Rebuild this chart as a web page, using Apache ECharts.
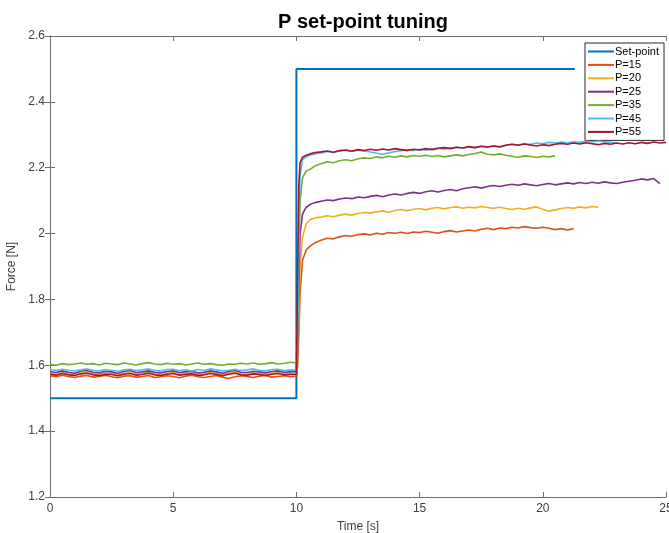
<!DOCTYPE html>
<html>
<head>
<meta charset="utf-8">
<script src="https://cdn.jsdelivr.net/npm/echarts@6/dist/echarts.min.js"></script>
<style>
html,body{margin:0;padding:0;background:#fff;}
#chart{width:669px;height:533px;}
</style>
</head>
<body>
<div id="chart"></div>
<script>
// Time base (s)
var times = [
  0,0.25,0.5,0.75,1,1.25,1.5,1.75,2,2.25,2.5,2.75,3,3.25,3.5,3.75,4,4.25,4.5,4.75,
  5,5.25,5.5,5.75,6,6.25,6.5,6.75,7,7.25,7.5,7.75,8,8.25,8.5,8.75,9,9.25,9.5,9.75,10,
  10.05,10.1,10.15,10.25,10.4,10.55,10.75,
  11,11.25,11.5,11.75,12,12.25,12.5,12.75,13,13.25,13.5,13.75,14,14.25,14.5,14.75,
  15,15.25,15.5,15.75,16,16.25,16.5,16.75,17,17.25,17.5,17.75,18,18.25,18.5,18.75,
  19,19.25,19.5,19.75,20,20.25,20.5,20.75,21,21.25,21.5,21.75,22,22.25,22.5,22.75,
  23,23.25,23.5,23.75,24,24.25,24.5,24.75,25
];

var setpointT = [0, 10, 10, 21.3];
var setpointV = [1.5, 1.5, 2.5, 2.5];

var p15 = [
  1.568,1.565,1.570,1.566,1.563,1.567,1.569,1.564,1.566,1.570,
  1.565,1.562,1.567,1.568,1.564,1.566,1.569,1.563,1.565,1.568,
  1.566,1.562,1.567,1.570,1.565,1.563,1.566,1.569,1.564,1.560,
  1.565,1.568,1.566,1.563,1.567,1.569,1.564,1.566,1.568,1.565,
  1.567,
  1.600,1.700,1.820,1.920,1.950,1.962,1.972,
  1.980,1.986,1.984,1.990, 1.994,1.992,1.997,1.999, 1.996,2.001,1.998,2.003,
  2.001,2.004,2.000,2.005, 2.003,2.007,2.004,2.001, 2.006,2.009,2.005,2.008,
  2.011,2.008,2.013,2.016, 2.012,2.017,2.015,2.019, 2.017,2.021,2.018,2.016,
  2.019,2.016,2.012,2.015, 2.011,2.015
];
var p20 = [
  1.576,1.573,1.578,1.574,1.571,1.576,1.579,1.574,1.572,1.577,
  1.575,1.571,1.576,1.578,1.573,1.575,1.579,1.574,1.572,1.576,
  1.578,1.573,1.575,1.577,1.572,1.574,1.578,1.575,1.571,1.576,
  1.579,1.574,1.573,1.577,1.575,1.572,1.576,1.578,1.574,1.575,
  1.576,
  1.610,1.760,1.900,1.990,2.030,2.042,2.048,
  2.050,2.054,2.051,2.056, 2.059,2.056,2.061,2.064, 2.062,2.066,2.069,2.065,
  2.070,2.073,2.069,2.074, 2.076,2.072,2.077,2.079, 2.075,2.079,2.081,2.077,
  2.080,2.078,2.082,2.079, 2.077,2.080,2.076,2.073, 2.077,2.074,2.078,2.081,
  2.074,2.068,2.072,2.076, 2.079,2.077,2.081,2.078, 2.082,2.080
];
var p25 = [
  1.581,1.578,1.583,1.579,1.576,1.582,1.584,1.579,1.577,1.582,
  1.580,1.576,1.581,1.584,1.578,1.580,1.583,1.579,1.577,1.581,
  1.583,1.578,1.580,1.582,1.577,1.579,1.583,1.580,1.576,1.581,
  1.584,1.579,1.578,1.582,1.580,1.577,1.581,1.583,1.579,1.580,
  1.581,
  1.640,1.850,2.000,2.060,2.080,2.088,2.094,
  2.098,2.102,2.100,2.105, 2.108,2.106,2.111,2.109, 2.113,2.116,2.112,2.117,
  2.120,2.117,2.122,2.125, 2.122,2.127,2.130,2.126, 2.131,2.134,2.130,2.136,
  2.139,2.142,2.138,2.143, 2.146,2.143,2.147,2.150, 2.147,2.151,2.148,2.145,
  2.149,2.152,2.148,2.151, 2.154,2.151,2.155,2.152, 2.156,2.153,2.157,2.154,
  2.152,2.156,2.159,2.162, 2.166,2.163,2.167,2.152
];
var p35 = [
  1.603,1.600,1.605,1.602,1.604,1.607,1.603,1.605,1.601,1.606,
  1.604,1.602,1.607,1.604,1.601,1.605,1.608,1.604,1.602,1.606,
  1.603,1.605,1.601,1.604,1.607,1.603,1.605,1.602,1.600,1.604,
  1.603,1.606,1.604,1.607,1.603,1.605,1.608,1.604,1.606,1.609,
  1.607,
  1.680,1.930,2.100,2.170,2.190,2.195,2.205,
  2.212,2.218,2.215,2.221, 2.224,2.221,2.227,2.230, 2.228,2.233,2.230,2.235,
  2.232,2.236,2.233,2.237, 2.235,2.238,2.234,2.237, 2.233,2.236,2.239,2.236,
  2.240,2.243,2.248,2.241, 2.239,2.242,2.238,2.235, 2.232,2.236,2.234,2.231,
  2.235,2.233,2.236
];
var p45 = [
  1.587,1.584,1.588,1.585,1.583,1.586,1.589,1.585,1.583,1.587,
  1.585,1.582,1.586,1.588,1.584,1.586,1.589,1.585,1.583,1.587,
  1.588,1.584,1.586,1.583,1.587,1.585,1.589,1.586,1.583,1.585,
  1.588,1.584,1.586,1.589,1.585,1.583,1.587,1.588,1.584,1.586,
  1.585,
  1.760,2.020,2.180,2.225,2.233,2.238,2.242,
  2.245,2.249,2.246,2.251, 2.253,2.250,2.254,2.251, 2.248,2.244,2.241,2.245,
  2.249,2.252,2.255,2.252, 2.256,2.253,2.257,2.259, 2.256,2.260,2.262,2.259,
  2.263,2.261,2.265,2.262, 2.266,2.264,2.268,2.271, 2.269,2.273,2.271,2.275,
  2.273,2.277,2.275,2.278, 2.276,2.279,2.277,2.280, 2.278,2.281,2.279,2.277,
  2.275
];
var p55 = [
  1.573,1.570,1.575,1.571,1.569,1.574,1.576,1.571,1.569,1.573,
  1.572,1.568,1.573,1.575,1.570,1.572,1.576,1.571,1.569,1.573,
  1.575,1.570,1.572,1.574,1.569,1.571,1.575,1.572,1.568,1.573,
  1.576,1.571,1.570,1.574,1.572,1.569,1.573,1.575,1.571,1.572,
  1.573,
  1.880,2.150,2.215,2.232,2.238,2.242,2.246,
  2.248,2.251,2.247,2.252, 2.254,2.250,2.255,2.252, 2.256,2.253,2.257,2.254,
  2.258,2.255,2.252,2.256, 2.254,2.258,2.255,2.259, 2.261,2.258,2.262,2.260,
  2.264,2.261,2.265,2.263, 2.266,2.263,2.268,2.271, 2.268,2.272,2.269,2.266,
  2.270,2.267,2.271,2.274, 2.271,2.275,2.272,2.276, 2.273,2.270,2.274,2.271,
  2.275,2.272,2.276,2.273, 2.277,2.274,2.278,2.275, 2.277
];

var seriesNames = ['Set-point','P=15','P=20','P=25','P=35','P=45','P=55'];
var colors = ['#0072BD','#D95319','#EDB120','#7E2F8E','#77AC30','#4DBEEE','#A2142F'];
var yTicks = [1.2,1.4,1.6,1.8,2,2.2,2.4,2.6];

function zip(t, v){ var out=[]; for(var i=0;i<v.length;i++){ out.push([t[i], v[i]]); } return out; }

var dataSets = [zip(setpointT, setpointV), zip(times,p15), zip(times,p20), zip(times,p25), zip(times,p35), zip(times,p45), zip(times,p55)];

var axisColor = '#6e6e6e';
var labelColor = '#404040';
var font = 'Liberation Sans, Arial, sans-serif';

var chart = echarts.init(document.getElementById('chart'), null, {renderer:'canvas'});
var series = dataSets.map(function(d, i){
  return {
    name: seriesNames[i], type:'line', data:d, symbol:'none', showSymbol:false,
    animation:false, z: 2 + i,
    lineStyle:{color:colors[i], width: i===0 ? 2 : 1.6},
    itemStyle:{color:colors[i]}
  };
});

chart.setOption({
  animation:false,
  backgroundColor:'#ffffff',
  title:{
    text:'P set-point tuning', left:358, top:7, textAlign:'center',
    textStyle:{fontFamily:font, fontSize:20, fontWeight:'bold', color:'#000'}
  },
  legend:{
    orient:'vertical', left:585, top:43,
    data: seriesNames,
    itemWidth:26, itemHeight:10, itemGap:2.4,
    padding:[3,5,3,2],
    itemStyle:{opacity:0},
    lineStyle:{width:2},
    borderColor:'#262626', borderWidth:1, backgroundColor:'#fff',
    textStyle:{fontFamily:font, fontSize:11, color:'#000', padding:[0,0,0,-4]}
  },
  grid:{left:50, right:3, top:36, bottom:36, outerBoundsMode:'none', containLabel:false},
  xAxis:[{
    type:'value', min:0, max:25, interval:5, position:'bottom',
    name:'Time [s]', nameLocation:'middle', nameGap:24,
    nameTextStyle:{fontFamily:font, fontSize:12, color:labelColor},
    axisLine:{show:true, lineStyle:{color:axisColor, width:1}},
    axisTick:{show:true, inside:true, length:5, lineStyle:{color:axisColor}},
    axisLabel:{fontFamily:font, fontSize:12, color:labelColor, margin:6},
    splitLine:{show:false}
  },{
    type:'value', min:0, max:25, interval:5, position:'top',
    axisLine:{show:true, lineStyle:{color:axisColor, width:1}},
    axisTick:{show:true, inside:true, length:5, lineStyle:{color:axisColor}},
    axisLabel:{show:false}, splitLine:{show:false}
  }],
  yAxis:[{
    type:'value', min:yTicks[0], max:yTicks[yTicks.length-1], interval:0.2, position:'left',
    name:'Force [N]', nameLocation:'middle', nameGap:32, nameRotate:90,
    nameTextStyle:{fontFamily:font, fontSize:12, color:labelColor},
    axisLine:{show:true, lineStyle:{color:axisColor, width:1}},
    axisTick:{show:true, inside:true, length:5, lineStyle:{color:axisColor}},
    axisLabel:{fontFamily:font, fontSize:12, color:labelColor, margin:5,
      formatter:function(v){ return String(Math.round(v*10)/10); }},
    splitLine:{show:false}
  },{
    type:'value', min:yTicks[0], max:yTicks[yTicks.length-1], interval:0.2, position:'right',
    axisLine:{show:true, lineStyle:{color:axisColor, width:1}},
    axisTick:{show:true, inside:true, length:5, lineStyle:{color:axisColor}},
    axisLabel:{show:false}, splitLine:{show:false}
  }],
  series: series
});
</script>
</body>
</html>
